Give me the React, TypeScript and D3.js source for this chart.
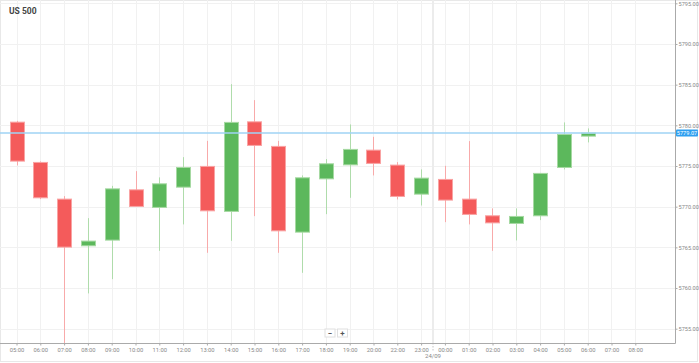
import React, { useRef, useEffect } from 'react';
import * as d3 from 'd3';

// hourly slots shown on the axis (21:00 is the market break)
const slots = [
  '05:00', '06:00', '07:00', '08:00', '09:00', '10:00', '11:00', '12:00', '13:00',
  '14:00', '15:00', '16:00', '17:00', '18:00', '19:00', '20:00', '22:00', '23:00',
  '00:00+', '01:00+', '02:00+', '03:00+', '04:00+', '05:00+', '06:00+', '07:00+', '08:00+'
];

const candleSlots = slots.slice(0, 25);
const opens = [
  5780.39, 5775.44, 5770.93, 5765.19, 5765.89, 5772.07, 5769.91, 5772.40, 5774.95,
  5769.42, 5780.43, 5777.41, 5766.87, 5773.42, 5775.14, 5776.95, 5775.11, 5771.54,
  5773.35, 5770.93, 5768.88, 5767.94, 5768.88, 5774.82, 5778.67
];
const highs = [
  5780.55, 5775.56, 5771.30, 5768.59, 5772.56, 5774.37, 5773.60, 5776.09, 5778.09,
  5785.06, 5783.10, 5778.09, 5773.84, 5775.85, 5780.11, 5778.59, 5775.48, 5774.58,
  5775.02, 5778.06, 5769.79, 5769.79, 5774.15, 5780.36, 5779.62
];
const lows = [
  5775.07, 5770.93, 5753.20, 5759.34, 5761.09, 5770.00, 5764.57, 5767.82, 5764.33,
  5765.80, 5768.84, 5764.33, 5761.87, 5769.08, 5771.09, 5773.84, 5770.89, 5770.15,
  5768.10, 5767.82, 5764.57, 5765.85, 5768.35, 5774.58, 5777.90
];
const closes = [
  5775.60, 5771.09, 5765.03, 5765.77, 5772.19, 5770.03, 5772.81, 5774.82, 5769.49,
  5780.36, 5777.53, 5767.03, 5773.55, 5775.27, 5777.04, 5775.32, 5771.26, 5773.51,
  5770.81, 5769.05, 5768.01, 5768.80, 5774.09, 5778.88, 5779.04
];

const priceTicks = [5755, 5760, 5765, 5770, 5775, 5780, 5785, 5790, 5795];
const currentPrice = 5779.07;

const App: React.FC = () => {
  const chartRef = useRef<SVGSVGElement | null>(null);

  useEffect(() => {
    document.body.style.margin = '0';
    if (!chartRef.current) return;

    d3.select(chartRef.current).selectAll('*').remove();

    const width = 699;
    const height = 363;
    const plotRight = 675;
    const plotBottom = 343;

    const svg = d3.select(chartRef.current)
      .attr('width', width)
      .attr('height', height)
      .style('font-family', 'Roboto, "Open Sans", sans-serif');

    // outer frame
    svg.append('rect')
      .attr('x', 0.5).attr('y', 0.5)
      .attr('width', 697).attr('height', 361)
      .attr('fill', '#fff')
      .attr('stroke', '#e8e8e8');

    const x = d3.scalePoint<string>()
      .domain(slots)
      .range([16.5, 635.3]);

    const y = d3.scaleLinear()
      .domain([5755, 5795])
      .range([328.7, 3.3]);

    const data = candleSlots.map((s, i) => ({
      slot: s,
      open: opens[i],
      high: highs[i],
      low: lows[i],
      close: closes[i]
    }));

    // clip
    svg.append('defs').append('clipPath')
      .attr('id', 'plot-clip')
      .append('rect')
      .attr('x', 0).attr('y', 0)
      .attr('width', plotRight).attr('height', plotBottom);

    // grid
    svg.append('g')
      .selectAll('line')
      .data(priceTicks)
      .join('line')
      .attr('x1', 0).attr('x2', plotRight)
      .attr('y1', d => Math.round(y(d)) + 0.5)
      .attr('y2', d => Math.round(y(d)) + 0.5)
      .attr('stroke', '#f1f1f1');

    svg.append('g')
      .selectAll('line')
      .data(slots)
      .join('line')
      .attr('x1', d => Math.round(x(d) || 0) + 0.5)
      .attr('x2', d => Math.round(x(d) || 0) + 0.5)
      .attr('y1', 0).attr('y2', plotBottom)
      .attr('stroke', '#f1f1f1');

    // day divider between 23:00 and 00:00
    const divX = ((x('23:00') || 0) + (x('00:00+') || 0)) / 2;
    svg.append('line')
      .attr('x1', divX).attr('x2', divX)
      .attr('y1', 0).attr('y2', plotBottom)
      .attr('stroke', '#ececec')
      .attr('stroke-width', 2);
    svg.append('line')
      .attr('x1', divX).attr('x2', divX)
      .attr('y1', plotBottom).attr('y2', plotBottom + 9)
      .attr('stroke', '#c4c4c4')
      .attr('stroke-dasharray', '1.5,1.5');
    svg.append('text')
      .attr('x', divX)
      .attr('y', 358)
      .attr('text-anchor', 'middle')
      .attr('font-size', 6)
      .attr('fill', '#888')
      .text('24/09');

    // candles
    const candles = svg.append('g').attr('clip-path', 'url(#plot-clip)');
    const bodyW = 15;

    candles.selectAll('line.wick')
      .data(data)
      .join('line')
      .attr('class', 'wick')
      .attr('x1', d => Math.round(x(d.slot) || 0) + 0.5)
      .attr('x2', d => Math.round(x(d.slot) || 0) + 0.5)
      .attr('y1', d => y(d.high))
      .attr('y2', d => y(d.low))
      .attr('stroke', d => d.close >= d.open ? '#afdcab' : '#f8aaaa')
      .attr('stroke-width', 1);

    candles.selectAll('rect.body')
      .data(data)
      .join('rect')
      .attr('class', 'body')
      .attr('x', d => Math.round(x(d.slot) || 0) - bodyW / 2 + 1)
      .attr('y', d => y(Math.max(d.open, d.close)))
      .attr('width', bodyW - 1)
      .attr('height', d => Math.max(1.5, Math.abs(y(d.open) - y(d.close))))
      .attr('fill', d => d.close >= d.open ? '#5cb85c' : '#f45b5b')
      .attr('stroke', d => d.close >= d.open ? '#a6d9a2' : '#f9a3a3')
      .attr('stroke-width', 1);

    // current price line
    svg.append('line')
      .attr('x1', 0).attr('x2', plotRight)
      .attr('y1', y(currentPrice)).attr('y2', y(currentPrice))
      .attr('stroke', '#9fd3f5')
      .attr('stroke-width', 1.5);

    // axes lines
    svg.append('line')
      .attr('x1', plotRight + 0.5).attr('x2', plotRight + 0.5)
      .attr('y1', 0).attr('y2', plotBottom + 0.5)
      .attr('stroke', '#aaa');
    svg.append('line')
      .attr('x1', 0).attr('x2', plotRight + 0.5)
      .attr('y1', plotBottom + 0.5).attr('y2', plotBottom + 0.5)
      .attr('stroke', '#aaa');

    // right axis
    const yAxis = svg.append('g')
      .attr('transform', `translate(${plotRight + 0.5},0)`)
      .call(d3.axisRight(y).tickValues(priceTicks).tickSize(2).tickPadding(1).tickFormat(d3.format('.2f')))
      .call(g => g.select('.domain').remove());
    yAxis.selectAll('line').attr('stroke', '#aaa');
    yAxis.selectAll('text')
      .attr('font-size', 5.6)
      .attr('fill', '#888')
      .attr('font-family', 'Roboto, sans-serif');

    // bottom axis
    const xAxis = svg.append('g')
      .attr('transform', `translate(0,${plotBottom + 0.5})`)
      .call(d3.axisBottom(x).tickSize(2).tickPadding(2).tickFormat(d => String(d).replace('+', '')))
      .call(g => g.select('.domain').remove());
    xAxis.selectAll('line').attr('stroke', '#aaa');
    xAxis.selectAll('text')
      .attr('font-size', 5.8)
      .attr('fill', '#888')
      .attr('font-family', 'Roboto, sans-serif');

    // current price label
    const py = y(currentPrice);
    svg.append('rect')
      .attr('x', plotRight + 1)
      .attr('y', py - 3.5)
      .attr('width', 22)
      .attr('height', 7)
      .attr('rx', 1)
      .attr('fill', '#2f9ff0');
    svg.append('text')
      .attr('x', plotRight + 12)
      .attr('y', py)
      .attr('dy', '0.35em')
      .attr('text-anchor', 'middle')
      .attr('font-size', 5.6)
      .attr('fill', '#fff')
      .text(currentPrice.toFixed(2));

    // title
    svg.append('text')
      .attr('x', 9)
      .attr('y', 14)
      .attr('font-size', 8.5)
      .attr('font-weight', 'bold')
      .attr('fill', '#444')
      .text('US 500');

    // zoom buttons
    const btns = [{ label: '−', x: 325 }, { label: '+', x: 337.5 }];
    const bg = svg.append('g');
    bg.selectAll('rect')
      .data(btns)
      .join('rect')
      .attr('x', d => d.x)
      .attr('y', 329)
      .attr('width', 10)
      .attr('height', 8)
      .attr('fill', '#fff')
      .attr('stroke', '#e0e0e0');
    bg.selectAll('text')
      .data(btns)
      .join('text')
      .attr('x', d => d.x + 5)
      .attr('y', 333)
      .attr('dy', '0.35em')
      .attr('text-anchor', 'middle')
      .attr('font-size', 8)
      .attr('font-weight', 'bold')
      .attr('fill', '#555')
      .text(d => d.label);
  }, []);

  return (
    <div style={{ width: 699, height: 363, overflow: 'hidden' }}>
      <svg ref={chartRef} style={{ display: 'block' }} />
    </div>
  );
};

export default App;
